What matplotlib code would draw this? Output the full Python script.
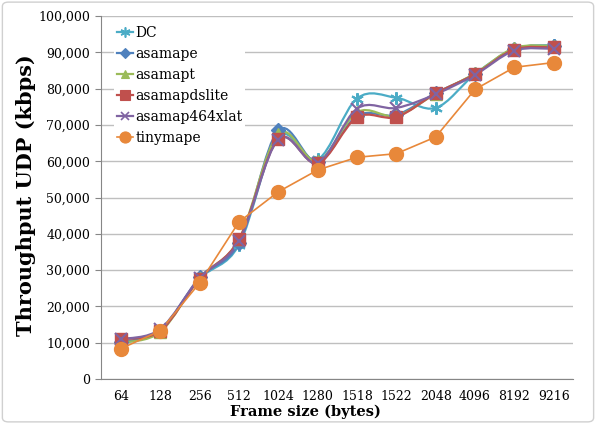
import numpy as np
import matplotlib
matplotlib.use("Agg")
import matplotlib.pyplot as plt
from matplotlib.path import Path
from matplotlib.patches import PathPatch, FancyBboxPatch
from matplotlib.lines import Line2D
from matplotlib.ticker import FuncFormatter

plt.rcParams['font.family'] = ['DejaVu Serif']

frame_sizes = ['64', '128', '256', '512', '1024', '1280', '1518', '1522',
               '2048', '4096', '8192', '9216']

dc = [9800, 13600, 27600, 37000, 66800, 60500, 77300, 77500, 74700, 84000, 91000, 92000]
asamape = [10300, 13300, 28000, 37500, 68500, 59800, 72500, 72800, 78800, 84000, 91000, 91800]
asamapt = [10000, 13000, 27800, 38500, 67500, 60000, 73500, 72500, 78600, 84200, 91200, 91800]
asamapdslite = [11000, 13300, 27700, 38500, 66100, 59400, 72100, 72200, 78700, 84000, 90800, 91400]
asamap464xlat = [11000, 13800, 27900, 38000, 66000, 59600, 74500, 74700, 78500, 83800, 90500, 91000]
tinymape = [8400, 13300, 26500, 43300, 51600, 57600, 61100, 62100, 66700, 79800, 85900, 87200]

series = [
    ('DC', dc, '#4BACC6', (6, 2, 0), 9, True),
    ('asamape', asamape, '#4F81BD', 'D', 7, True),
    ('asamapt', asamapt, '#9BBB59', '^', 8, True),
    ('asamapdslite', asamapdslite, '#C0504D', 's', 9, True),
    ('asamap464xlat', asamap464xlat, '#8064A2', 'x', 8, True),
    ('tinymape', tinymape, '#E8883A', 'o', 10, False),
]


def smooth_path(x, y):
    # cubic bezier segments with Excel-like tangents
    pts = np.column_stack([x, y]).astype(float)
    verts = [pts[0]]
    codes = [Path.MOVETO]
    n = len(pts)
    for i in range(n - 1):
        p0 = pts[max(i - 1, 0)]
        p1 = pts[i]
        p2 = pts[i + 1]
        p3 = pts[min(i + 2, n - 1)]
        c1 = p1 + (p2 - p0) / 6.0
        c2 = p2 - (p3 - p1) / 6.0
        verts += [c1, c2, p2]
        codes += [Path.CURVE4] * 3
    return Path(verts, codes)


fig = plt.figure(figsize=(5.96, 4.24), dpi=100)
ax = fig.add_axes([0.170, 0.106, 0.792, 0.856])

xs = np.arange(len(frame_sizes))
handles = []
for name, vals, color, marker, ms, smooth in series:
    lw = 1.6 if smooth else 1.2
    if smooth:
        ax.add_patch(PathPatch(smooth_path(xs, vals), facecolor='none',
                               edgecolor=color, lw=lw, zorder=3))
    else:
        ax.plot(xs, vals, color=color, lw=lw, zorder=3)
    mew = 1.5 if marker in ('x', (6, 2, 0)) else 1
    ax.plot(xs, vals, ls='none', marker=marker, ms=ms, color=color,
            mec=color, mew=mew, zorder=4)
    handles.append(Line2D([], [], color=color, lw=lw, marker=marker, ms=ms * 0.8,
                          mec=color, mew=mew * 0.8, label=name))

ax.set_xlim(-0.5, len(frame_sizes) - 0.5)
ax.set_ylim(0, 100000)
ax.set_yticks(np.arange(0, 100001, 10000))
ax.yaxis.set_major_formatter(FuncFormatter(lambda v, p: f'{int(v):,}'))
ax.set_xticks(xs)
ax.set_xticklabels(frame_sizes)
ax.grid(axis='y', color='#BFBFBF', lw=1)
ax.set_axisbelow(True)
for s in ('top', 'right'):
    ax.spines[s].set_visible(False)
for s in ('left', 'bottom'):
    ax.spines[s].set_color('#868686')
ax.tick_params(axis='y', length=4, color='#868686', labelsize=9, pad=4)
ax.tick_params(axis='x', length=0, labelsize=9, pad=8)

fig.text(0.044, 0.54, 'Throughput UDP (kbps)', rotation=90, fontsize=15,
         fontweight='bold', ha='center', va='center')
fig.text(0.512, 0.028, 'Frame size (bytes)', fontsize=10.5, fontweight='bold',
         ha='center', va='center')

leg = ax.legend(handles=handles, loc='upper left', bbox_to_anchor=(0.012, 1.0),
                frameon=True, fontsize=10, handlelength=1.2, handletextpad=0.15,
                labelspacing=0.5, borderpad=0.2, borderaxespad=0.5)
leg.get_frame().set_edgecolor('none')
leg.get_frame().set_facecolor('white')
leg.get_frame().set_alpha(1)
leg.set_zorder(5)

fig.patches.append(FancyBboxPatch((0.004, 0.005), 0.992, 0.99,
                                  boxstyle='round,pad=0,rounding_size=0.01',
                                  transform=fig.transFigure, fill=False,
                                  edgecolor='#D0D0D0', lw=1))

fig.savefig('out.png', dpi=100)
